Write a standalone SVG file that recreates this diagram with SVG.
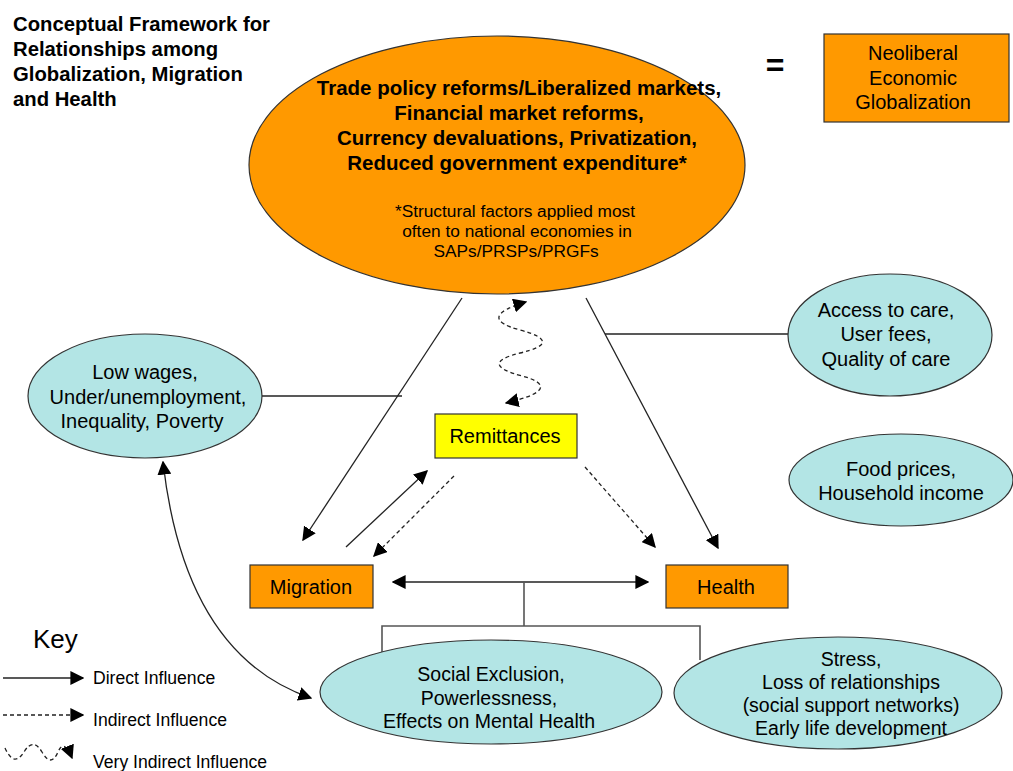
<svg xmlns="http://www.w3.org/2000/svg" width="1013" height="771" viewBox="0 0 1013 771">
<style>
text{font-family:"Liberation Sans",Arial,sans-serif;fill:#000}
.t{font-size:20px;text-anchor:middle}
.t2{font-size:19.5px;text-anchor:middle}
.bt{font-size:20.5px;font-weight:bold;text-anchor:middle}
.s{font-size:17.3px;text-anchor:middle}
.k{font-size:17.6px}
.ti{font-size:20.3px;font-weight:bold}
.or{fill:#FF9900;stroke:#333;stroke-width:1.2}
.tl{fill:#B3E5E5;stroke:#333;stroke-width:1.2}
.ye{fill:#FFFF00;stroke:#333;stroke-width:1.2}
.ln{fill:none;stroke:#222;stroke-width:1.3}
.gr{fill:none;stroke:#555;stroke-width:1.6}
.ds{fill:none;stroke:#222;stroke-width:1.3;stroke-dasharray:4 3}
</style>
<defs>
<marker id="ah" viewBox="0 0 10 10" refX="9" refY="5" markerWidth="14" markerHeight="14" markerUnits="userSpaceOnUse" orient="auto-start-reverse">
<path d="M0,0 L10,5 L0,10 z" fill="#000"/>
</marker>
</defs>
<rect width="1013" height="771" fill="#fff"/>
<g id="title">
<text x="13" y="31" class="ti">Conceptual Framework for</text>
<text x="13" y="56" class="ti">Relationships among</text>
<text x="13" y="81" class="ti">Globalization, Migration</text>
<text x="13" y="106" class="ti">and Health</text>
</g>
<g id="connectors">
<path class="ln" d="M605,334 L790,334"/>
<path class="ln" d="M260,396 L402,396"/>
<path class="ln" d="M462,298 L303,540" marker-end="url(#ah)"/>
<path class="ln" d="M586,298 L718,548" marker-end="url(#ah)"/>
<path class="ln" d="M346,547 L427,471" marker-end="url(#ah)"/>
<path class="ds" d="M454,476 L374,556" marker-end="url(#ah)"/>
<path class="ds" d="M585,467 L655,547" marker-end="url(#ah)"/>
<path class="ds" d="M506,403 C545,394 552,384 522,376 C492,368 492,360 520,353 C550,346 550,338 520,330 C490,322 492,312 526,302" marker-start="url(#ah)" marker-end="url(#ah)"/>
<path class="ln" d="M393,582 L648,582" marker-start="url(#ah)" marker-end="url(#ah)"/>
<path class="gr" d="M524,582 L524,626 M382,655 L382,626 L700,626 L700,660"/>
<path class="ln" d="M163,462 Q185,655 311,698" marker-start="url(#ah)" marker-end="url(#ah)"/>
</g>
<g id="globalization">
<ellipse class="or" cx="497" cy="165" rx="248" ry="129"/>
<text x="519" y="95" class="bt">Trade policy reforms/Liberalized markets,</text>
<text x="519" y="120" class="bt">Financial market reforms,</text>
<text x="517" y="145" class="bt">Currency devaluations, Privatization,</text>
<text x="517" y="170" class="bt">Reduced government expenditure*</text>
<text x="515" y="217" class="s">*Structural factors applied most</text>
<text x="517" y="237" class="s">often to national economies in</text>
<text x="516" y="257" class="s">SAPs/PRSPs/PRGFs</text>
</g>
<g id="equals"><text x="775" y="76" font-size="32" font-weight="bold" text-anchor="middle">=</text></g>
<g id="neoliberal">
<rect class="or" x="824" y="34" width="185" height="88"/>
<text x="913" y="60" class="t">Neoliberal</text>
<text x="913" y="85" class="t">Economic</text>
<text x="913" y="109" class="t">Globalization</text>
</g>
<g id="access">
<ellipse class="tl" cx="890" cy="335" rx="102" ry="61"/>
<text x="886" y="317" class="t">Access to care,</text>
<text x="886" y="341" class="t">User fees,</text>
<text x="886" y="366" class="t">Quality of care</text>
</g>
<g id="food">
<ellipse class="tl" cx="901" cy="480" rx="112" ry="46"/>
<text x="901" y="476" class="t">Food prices,</text>
<text x="901" y="500" class="t">Household income</text>
</g>
<g id="lowwages">
<ellipse class="tl" cx="145" cy="396" rx="117" ry="62"/>
<text x="145" y="379" class="t">Low wages,</text>
<text x="148" y="404" class="t">Under/unemployment,</text>
<text x="142" y="428" class="t">Inequality, Poverty</text>
</g>
<g id="remittances">
<rect class="ye" x="435" y="414" width="142" height="44"/>
<text x="505" y="443" class="t">Remittances</text>
</g>
<g id="migration">
<rect class="or" x="250" y="565" width="123" height="43"/>
<text x="311" y="594" class="t">Migration</text>
</g>
<g id="health">
<rect class="or" x="666" y="565" width="122" height="43"/>
<text x="726" y="594" class="t">Health</text>
</g>
<g id="social">
<ellipse class="tl" cx="491" cy="692" rx="171" ry="52"/>
<text x="491" y="681" class="t2">Social Exclusion,</text>
<text x="489" y="705" class="t2">Powerlessness,</text>
<text x="489" y="728" class="t2">Effects on Mental Health</text>
</g>
<g id="stress">
<ellipse class="tl" cx="838" cy="693" rx="164" ry="56"/>
<text x="851" y="666" class="t2">Stress,</text>
<text x="851" y="689" class="t2">Loss of relationships</text>
<text x="851" y="712" class="t2">(social support networks)</text>
<text x="851" y="735" class="t2">Early life development</text>
</g>
<g id="key">
<text x="33" y="648" font-size="26">Key</text>
<path class="ln" d="M3,678 L83,678" marker-end="url(#ah)"/>
<text x="93" y="684" class="k">Direct Influence</text>
<path class="ds" d="M3,715 L83,715" marker-end="url(#ah)"/>
<text x="93" y="726" class="k">Indirect Influence</text>
<path class="ds" d="M5,748 Q14,768 24,752 Q33,737 42,752 Q51,768 58,752 Q64,738 72,758" marker-end="url(#ah)"/>
<text x="93" y="768" class="k">Very Indirect Influence</text>
</g>
</svg>
